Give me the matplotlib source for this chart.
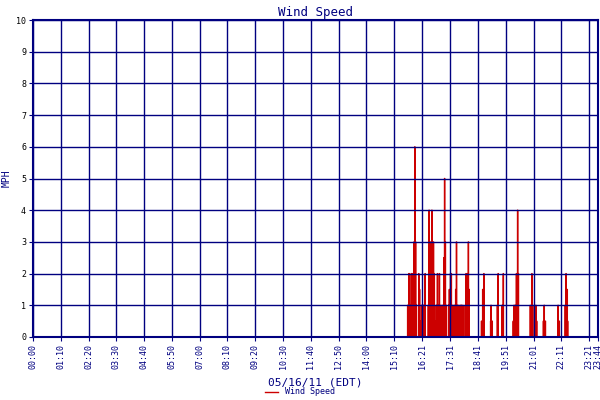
import matplotlib
matplotlib.use("Agg")
import matplotlib.pyplot as plt
import numpy as np

tick_labels = ["00:00","01:10","02:20","03:30","04:40","05:50","07:00","08:10","09:20","10:30",
               "11:40","12:50","14:00","15:10","16:21","17:31","18:41","19:51","21:01","22:11","23:21","23:44"]
spike_minutes = [944,947,949,951,954,955,958,960,962,964,966,972,974,977,979,982,984,985,988,
                 996,998,1001,1002,1005,1007,1009,1011,1013,1016,1019,1021,1024,1026,1028,1031,1032,
                 1035,1037,1039,1041,1047,1049,1052,1054,1056,1058,1060,1062,1065,1067,1069,1071,1073,
                 1076,1078,1079,1081,1083,1089,1091,1094,1095,1097,1099,1130,1133,1136,1153,1154,1157,
                 1170,1172,1182,1185,1210,1212,1215,1218,1221,1223,1253,1257,1259,1265,1267,1269,
                 1286,1288,1291,1323,1326,1341,1343,1346,1347]
spike_values = [1,2,2,1,2,2,2,3,6,3,1,2,1.5,0.5,1,1,1,0.5,2,
                1,4,3,2,4,2,3,2,0.5,1,2,1,2,0.5,1,0.5,1,
                2.5,5,3,1,1,1.5,2,2,0.5,1,0.5,1,1.5,3,1,0.5,1,
                0.5,1,1,0.5,1,1,2,2,1.5,3,1.5,0.5,1.5,2,0.5,1,0.5,
                1,2,1,2,0.5,1,1,2,4,2,1,2,1,0.5,1,0.5,
                0.5,1,0.5,1,0.5,1,2,1.5,0.5]

def to_min(s):
    h, m = s.split(":")
    return int(h) * 60 + int(m)
tick_pos = [to_min(s) for s in tick_labels]

minutes = np.arange(0, 1425, 0.5)
speed = np.zeros(len(minutes))
speed[np.array(spike_minutes) * 2] = spike_values

navy = "#000080"
red = "#cc0000"
mono = "DejaVu Sans Mono"

fig = plt.figure(figsize=(6, 4), dpi=100)
ax = fig.add_axes([0.055, 0.1575, 0.942, 0.7925])
ax.plot(minutes, speed, color=red, lw=1.0, drawstyle="steps-mid", zorder=2, label="Wind Speed")
ax.set_xlim(0, 1424)
ax.set_ylim(0, 10)
ax.set_xticks(tick_pos)
ax.set_xticklabels(tick_labels, rotation=90, fontsize=6, family=mono, color=navy)
ax.set_yticks(range(11))
ax.set_yticklabels([str(i) for i in range(11)], fontsize=6, family=mono)
ax.grid(True, color=navy, lw=1.0, zorder=3)
ax.set_axisbelow(False)
for s in ax.spines.values():
    s.set_color(navy)
    s.set_linewidth(1.5)
ax.tick_params(length=3, color=navy, pad=2)
ax.set_title("Wind Speed", color=navy, family=mono, fontsize=9, pad=3)
ax.set_ylabel("MPH", color=navy, family=mono, fontsize=7, labelpad=3)
ax.set_xlabel("05/16/11 (EDT)", color=navy, family=mono, fontsize=8, labelpad=6)
fig.legend(loc="lower center", bbox_to_anchor=(0.5, -0.01), frameon=False,
           prop={"family": mono, "size": 6}, handlelength=1.5, labelcolor=navy)
fig.savefig("out.png", dpi=100)
